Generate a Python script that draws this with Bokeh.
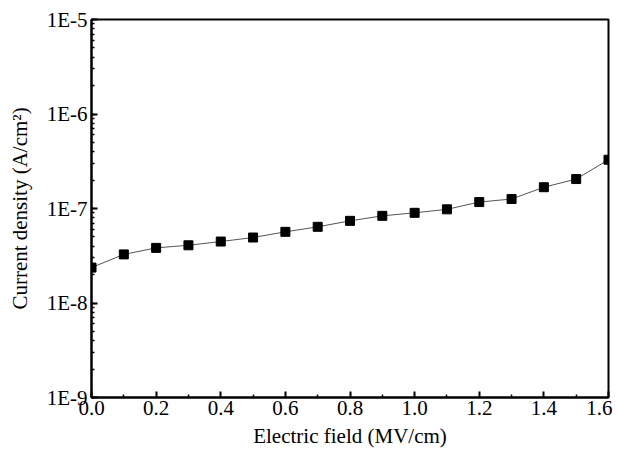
from bokeh.plotting import figure
from bokeh.models import FixedTicker, LogTicker, CustomJSTickFormatter, PrintfTickFormatter, Range1d
from bokeh.embed import file_html
from bokeh.resources import INLINE

field = [0.0, 0.1, 0.2, 0.3, 0.4, 0.5, 0.6, 0.7, 0.8, 0.9, 1.0, 1.1, 1.2, 1.3, 1.4, 1.5, 1.6]
current = [2.37e-8, 3.27e-8, 3.83e-8, 4.08e-8, 4.47e-8, 4.93e-8, 5.66e-8, 6.4e-8, 7.4e-8,
           8.36e-8, 9.0e-8, 9.8e-8, 1.17e-7, 1.26e-7, 1.68e-7, 2.05e-7, 3.28e-7]
x_ticks = [0.0, 0.2, 0.4, 0.6, 0.8, 1.0, 1.2, 1.4, 1.6]
x_minor = [0.1, 0.3, 0.5, 0.7, 0.9, 1.1, 1.3, 1.5]

FONT = "Liberation Serif"

p = figure(frame_width=517, frame_height=378, y_axis_type="log", output_backend="svg",
           toolbar_location=None, x_range=Range1d(0, 1.6), y_range=Range1d(1e-9, 1e-5),
           min_border_left=91, min_border_right=4, min_border_top=19, min_border_bottom=40)
p.grid.visible = False
p.outline_line_color = "black"
p.outline_line_width = 2
p.background_fill_color = "white"
p.border_fill_color = "white"

p.line(field, current, line_color="#555555", line_width=1)
p.scatter(field, current, marker="square", size=9, fill_color="black", line_color="black")

xa = p.xaxis[0]
xa.ticker = FixedTicker(ticks=x_ticks, minor_ticks=x_minor)
xa.formatter = PrintfTickFormatter(format="%.1f")
ya = p.yaxis[0]
ya.ticker = LogTicker(num_minor_ticks=10)
ya.formatter = CustomJSTickFormatter(code="return '1E' + Math.round(Math.log10(tick));")

for ax in (xa, ya):
    ax.axis_line_width = 2
    ax.axis_line_color = "black"
    ax.major_tick_in = 6
    ax.major_tick_out = 0
    ax.minor_tick_in = 3
    ax.minor_tick_out = 0
    ax.major_tick_line_width = 2
    ax.minor_tick_line_width = 1.5
    ax.major_label_text_font = FONT
    ax.major_label_text_font_size = "21px"
    ax.major_label_text_color = "black"
    ax.axis_label_text_font = FONT
    ax.axis_label_text_font_size = "21px"
    ax.axis_label_text_font_style = "normal"
    ax.axis_label_text_color = "black"

xa.axis_label = "Electric field (MV/cm)"
xa.major_label_standoff = 3
xa.axis_label_standoff = 6
ya.axis_label = "Current density (A/cm\u00b2)"
ya.major_label_standoff = 4
ya.axis_label_standoff = 12

open("out.html", "w").write(file_html(p, INLINE))
